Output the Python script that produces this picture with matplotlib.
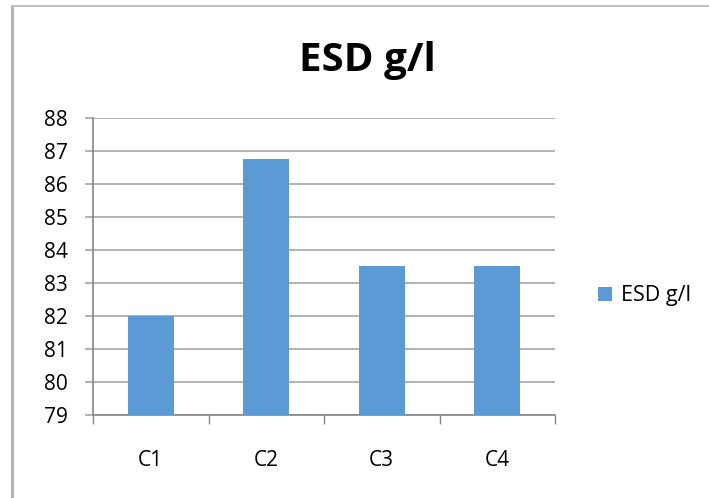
import matplotlib
matplotlib.use("Agg")
import matplotlib.pyplot as plt
from matplotlib.lines import Line2D
from matplotlib.patches import Patch

categories = ["C1", "C2", "C3", "C4"]
esd_values = [82.0, 86.75, 83.5, 83.5]
series_name = "ESD g/l"
y_ticks = list(range(79, 89))

plt.rcParams["font.family"] = ["Open Sans", "DejaVu Sans"]

W, H = 709, 498
fig = plt.figure(figsize=(W / 100, H / 100), dpi=100)
fig.patch.set_facecolor("white")

# chart frame (left and top edges)
fig.add_artist(Line2D([11.5 / W, 11.5 / W], [0, 1 - 6 / H], transform=fig.transFigure,
                      color="#b3b3b3", lw=2.2))
fig.add_artist(Line2D([11.5 / W, 1], [1 - 6.5 / H, 1 - 6.5 / H], transform=fig.transFigure,
                      color="#c0c0c0", lw=1.5))

ax = fig.add_axes([93 / W, 1 - 415 / H, (555 - 93) / W, (415 - 118) / H])
x = list(range(len(categories)))
ax.bar(x, esd_values, width=0.4, color="#5B9BD5", zorder=3)

ax.set_xlim(-0.5, len(categories) - 0.5)
ax.set_ylim(79, 88)
ax.set_yticks(y_ticks)
ax.set_yticklabels([str(t) for t in y_ticks])
ax.yaxis.grid(True, color="#a6a6a6", lw=1.2, zorder=0)
ax.set_axisbelow(True)

ax.set_xticks(x)
ax.set_xticklabels(categories)
ax.set_xticks([i - 0.5 for i in range(len(categories) + 1)], minor=True)
ax.tick_params(axis="x", which="major", length=0, pad=25, labelsize=15)
ax.tick_params(axis="x", which="minor", length=6.5, width=1, color="#868686", direction="out")
ax.tick_params(axis="y", length=6, width=1.2, color="#a6a6a6", pad=12, labelsize=15)

for side in ("top", "right"):
    ax.spines[side].set_visible(False)
ax.spines["left"].set_color("#868686")
ax.spines["bottom"].set_color("#868686")
ax.spines["left"].set_linewidth(1.2)
ax.spines["bottom"].set_linewidth(1.2)

fig.text(367 / W, 1 - 71 / H, series_name, ha="center", va="baseline",
         fontsize=29, fontweight="bold")

fig.legend(handles=[Patch(facecolor="#5B9BD5", label=series_name)],
           loc="center left", bbox_to_anchor=(598 / W, 1 - 296 / H),
           frameon=False, fontsize=15.5, handlelength=0.65, handleheight=0.65,
           handletextpad=0.4, borderpad=0, borderaxespad=0)

fig.savefig("out.png", dpi=100, facecolor="white")
